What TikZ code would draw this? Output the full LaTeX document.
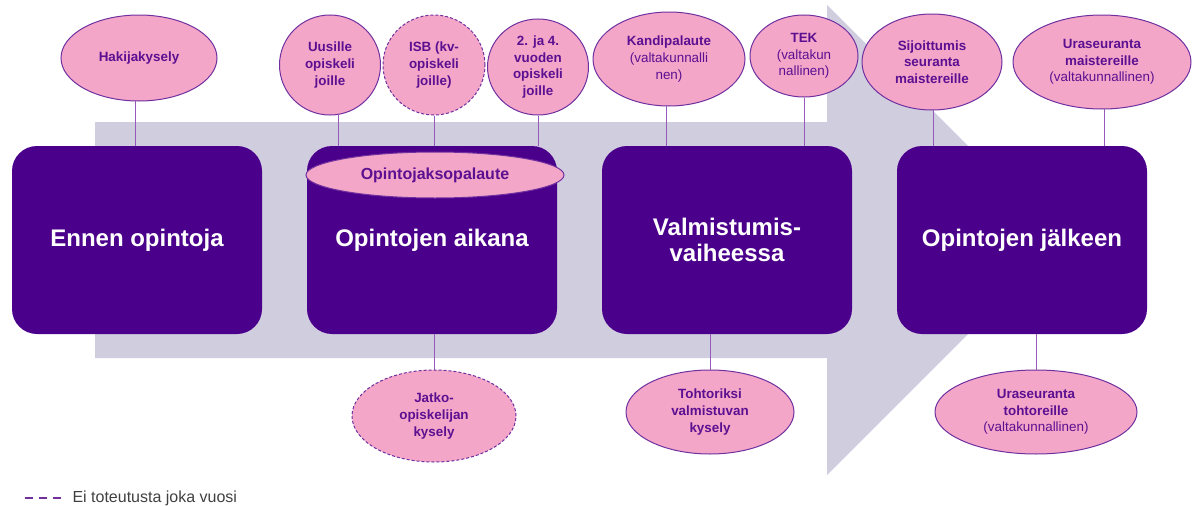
\documentclass[tikz,border=0pt]{standalone}
\usepackage{fontspec}
\setmainfont{Liberation Sans}
\usepackage{tikz}
\usetikzlibrary{shapes.geometric,positioning}

\definecolor{arrowgrey}{RGB}{208,205,222}
\definecolor{boxpurple}{RGB}{75,0,140}
\definecolor{pinkfill}{RGB}{243,166,200}
\definecolor{edgepurple}{RGB}{112,48,160}
\definecolor{textpurple}{RGB}{92,16,145}
\definecolor{linepurple}{RGB}{150,90,190}
\definecolor{legendgrey}{RGB}{64,64,64}

\begin{document}
\begin{tikzpicture}[x=1pt,y=-1pt,node distance=295pt,on grid,
  stage/.style={rectangle,rounded corners=25pt,fill=boxpurple,text=white,
    minimum width=250pt,minimum height=188pt,align=center,
    font=\bfseries\fontsize{24}{26}\selectfont},
  survey/.style={ellipse,draw=edgepurple,line width=1pt,fill=pinkfill,
    text=textpurple,inner sep=0pt,align=center,
    font=\fontsize{13.4}{16.7}\selectfont},
  irregular/.style={survey,dash pattern=on 3pt off 2pt},
  link/.style={draw=linepurple,line width=1pt}]
\useasboundingbox (0,0) rectangle (1195,506);

% big grey arrow behind the stages
\fill[arrowgrey] (95,122) -- (827,122) -- (827,5) -- (1062,240)
  -- (827,475) -- (827,358) -- (95,358) -- cycle;

% stages
\node[stage] (b1) at (137,240) {Ennen opintoja};
\node[stage] (b2) [right=of b1] {Opintojen aikana};
\node[stage] (b3) [right=of b2] {Valmistumis-\\vaiheessa};
\node[stage] (b4) [right=of b3] {Opintojen jälkeen};

% surveys above
\node[survey,minimum width=156pt,minimum height=86pt] (hak) at (139,58) {\textbf{Hakijakysely}};
\node[survey,minimum width=101pt,minimum height=100pt] (uus) at (330,65) {\textbf{Uusille}\\\textbf{opiskeli}\\\textbf{joille}};
\node[irregular,minimum width=102pt,minimum height=100pt] (isb) at (434,65) {\textbf{ISB (kv-}\\\textbf{opiskeli}\\\textbf{joille)}};
\node[survey,minimum width=101pt,minimum height=96pt] (vuo) at (538,67) {\textbf{2. ja 4.}\\\textbf{vuoden}\\\textbf{opiskeli}\\\textbf{joille}};
\node[survey,minimum width=152pt,minimum height=94pt] (kan) at (669,59) {\textbf{Kandipalaute}\\(valtakunnalli\\nen)};
\node[survey,minimum width=108pt,minimum height=82pt] (tek) at (804,56) {\textbf{TEK}\\(valtakun\\nallinen)};
\node[survey,minimum width=140pt,minimum height=96pt] (sij) at (932,62) {\textbf{Sijoittumis}\\\textbf{seuranta}\\\textbf{maistereille}};
\node[survey,minimum width=178pt,minimum height=94pt] (urm) at (1102,62) {\textbf{Uraseuranta}\\\textbf{maistereille}\\(valtakunnallinen)};

% course feedback over the second stage
\node[survey,minimum width=258pt,minimum height=46pt,font=\bfseries\fontsize{16}{19}\selectfont] (opj) at (435,175) {Opintojaksopalaute};

% surveys below
\node[irregular,minimum width=164pt,minimum height=92pt] (jat) at (434,416) {\textbf{Jatko-}\\\textbf{opiskelijan}\\\textbf{kysely}};
\node[survey,minimum width=168pt,minimum height=84pt] (toh) at (710,412) {\textbf{Tohtoriksi}\\\textbf{valmistuvan}\\\textbf{kysely}};
\node[survey,minimum width=202pt,minimum height=84pt] (urt) at (1036,412) {\textbf{Uraseuranta}\\\textbf{tohtoreille}\\(valtakunnallinen)};

% connectors
\draw[link] (hak.265) -- (hak.265 |- b1.north);
\draw[link] (uus.280) -- (uus.280 |- b2.north);
\draw[link] (isb.south) -- (isb.south |- b2.north);
\draw[link] (vuo.south) -- (vuo.south |- b2.north);
\draw[link] (kan.267) -- (kan.267 |- b3.north);
\draw[link] (tek.south) -- (tek.south |- b3.north);
\draw[link] (sij.272) -- (sij.272 |- b4.north);
\draw[link] (urm.273) -- (urm.273 |- b4.north);
\draw[link] (jat.north |- b2.south) -- (jat.north);
\draw[link] (toh.north |- b3.south) -- (toh.north);
\draw[link] (urt.north |- b4.south) -- (urt.north);

% legend
\coordinate (legstart) at (25,498);
\coordinate (legend) at (61,498);
\node[anchor=west,text=legendgrey,font=\fontsize{16}{18}\selectfont] (leg) at (69,498) {Ei toteutusta joka vuosi};
\draw[draw=edgepurple,line width=2pt,dash pattern=on 8pt off 6pt] (legstart) -- (legend);
\end{tikzpicture}
\end{document}
